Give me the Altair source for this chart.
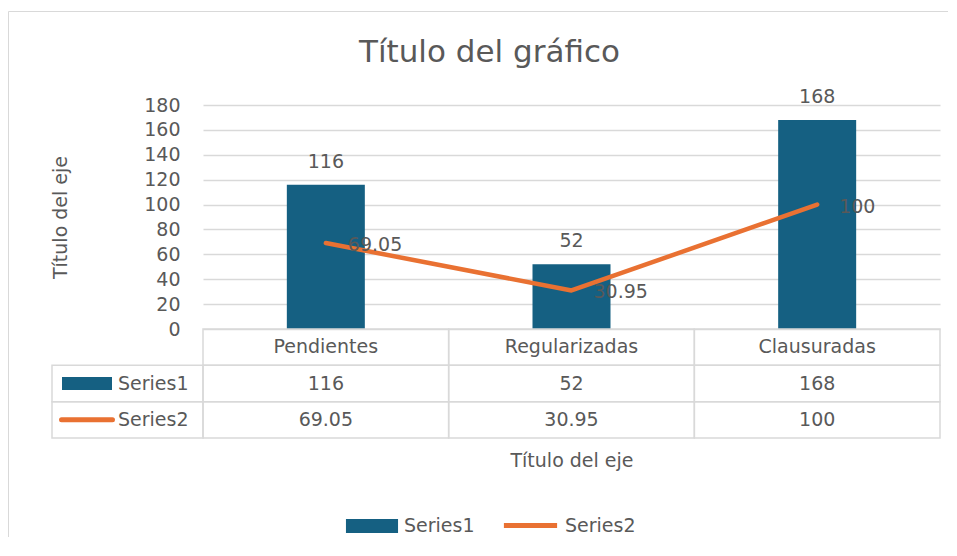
import altair as alt
import pandas as pd

# ---- data ----
categories = ["Pendientes", "Regularizadas", "Clausuradas"]
series1 = [116, 52, 168]
series2 = [69.05, 30.95, 100]
series_names = ["Series1", "Series2"]
y_ticks = [0, 20, 40, 60, 80, 100, 120, 140, 160, 180]
title_text = "Título del gráfico"
axis_title = "Título del eje"

BLUE = "#156082"
ORANGE = "#E97132"
TEXT = "#595959"
GRID = "#D9D9D9"
FONT = "DejaVu Sans"
FS = 19

W, H = 737, 224


def fmt(v):
    return f"{v:g}"


df1 = pd.DataFrame({"cat": categories, "value": series1, "series": "Series1",
                    "label": [fmt(v) for v in series1]})
df2 = pd.DataFrame({"cat": categories, "value": series2, "series": "Series2",
                    "label": [fmt(v) for v in series2]})

table_rows = []
for i, c in enumerate(categories):
    table_rows.append({"cat": c, "row": "header", "text": c})
    table_rows.append({"cat": c, "row": "Series1", "text": fmt(series1[i])})
    table_rows.append({"cat": c, "row": "Series2", "text": fmt(series2[i])})
table_df = pd.DataFrame(table_rows)
rowlab_df = pd.DataFrame({"row": series_names})

# ---- encodings ----
xscale = alt.Scale(domain=categories, paddingInner=0, paddingOuter=0)
xaxis = alt.Axis(labels=False, ticks=False, domain=False, grid=False,
                 title=axis_title, titleFont=FONT, titleFontSize=FS,
                 titleColor=TEXT, titleFontWeight="normal",
                 titleX=W / 2, titleY=131, titleBaseline="middle")
X = alt.X("cat:N", scale=xscale, axis=xaxis)

yscale = alt.Scale(domain=[0, 180], nice=False)
yaxis = alt.Axis(values=y_ticks, grid=True, gridColor=GRID, gridWidth=1.3,
                 domain=False, ticks=False, labelPadding=23,
                 labelFont=FONT, labelFontSize=FS, labelColor=TEXT,
                 title=axis_title, titleFont=FONT, titleFontSize=FS,
                 titleColor=TEXT, titleFontWeight="normal",
                 titleX=-143, titleY=H / 2, titleAngle=270,
                 titleAlign="center", titleBaseline="middle")
Y = alt.Y("value:Q", scale=yscale, axis=yaxis)

legend_common = dict(orient="none", direction="horizontal",
                     title=None, symbolSize=3136, labelFont=FONT,
                     labelFontSize=FS, labelColor=TEXT, labelOffset=4,
                     padding=0, symbolOpacity=1)

fill_enc = alt.Fill("series:N",
                    scale=alt.Scale(domain=["Series1"], range=[BLUE]),
                    legend=alt.Legend(legendX=141, legendY=393,
                                      symbolType="M-0.93,-0.25H0.93V0.25H-0.93Z",
                                      symbolStrokeWidth=0, **legend_common))
stroke_enc = alt.Stroke("series:N",
                        scale=alt.Scale(domain=["Series2"], range=[ORANGE]),
                        legend=alt.Legend(legendX=297, legendY=390,
                                          symbolType="M-0.95,0H0.95",
                                          symbolStrokeWidth=5, **legend_common))

bars = alt.Chart(df1).mark_bar(size=78).encode(x=X, y=Y, fill=fill_enc)
bar_labels = alt.Chart(df1).mark_text(
    font=FONT, fontSize=FS, color=TEXT, baseline="middle", dy=-23
).encode(x=X, y=Y, text="label:N")
line = alt.Chart(df2).mark_line(
    strokeWidth=4.5, strokeCap="round", strokeJoin="round"
).encode(x=X, y=Y, stroke=stroke_enc)
line_labels = alt.Chart(df2).mark_text(
    font=FONT, fontSize=FS, color=TEXT, align="left", baseline="middle",
    dx=22, dy=2
).encode(x=X, y=Y, text="label:N")

main = alt.layer(bars, bar_labels, line, line_labels)

# ---- data table ----
rowscale = alt.Scale(domain=["header", "Series1", "Series2"], range=[224, 333],
                     paddingInner=0, paddingOuter=0)
R = alt.Y("row:N", scale=rowscale, axis=None)

cells = alt.Chart(table_df).mark_rect(
    fillOpacity=0, stroke=GRID, strokeWidth=1.5
).encode(x=X, y=R)
left_cells = alt.Chart(rowlab_df).mark_rect(
    fillOpacity=0, stroke=GRID, strokeWidth=1.5
).encode(x=alt.value(-151), x2=alt.value(0), y=R)
cell_text = alt.Chart(table_df).mark_text(
    font=FONT, fontSize=FS, color=TEXT, baseline="middle"
).encode(x=X, y=R, text="text:N")
row_text = alt.Chart(rowlab_df).mark_text(
    font=FONT, fontSize=FS, color=TEXT, align="left", baseline="middle"
).encode(x=alt.value(-85), y=R, text="row:N")
sw1 = alt.Chart(rowlab_df).transform_filter("datum.row == 'Series1'").mark_point(
    shape="M-1,-0.26H1V0.26H-1Z", filled=True, size=2500, color=BLUE,
    opacity=1, strokeWidth=0
).encode(x=alt.value(-116), y=R)
sw2 = alt.Chart(rowlab_df).transform_filter("datum.row == 'Series2'").mark_point(
    shape="M-0.91,0H0.91", filled=False, size=3136, color=ORANGE,
    opacity=1, strokeWidth=5, strokeCap="round"
).encode(x=alt.value(-116), y=R)

frame = alt.Chart(alt.Data(values=[{"f": 1}])).mark_rect(
    fillOpacity=0, stroke=GRID, strokeWidth=1
).encode(x=alt.value(-194.5), x2=alt.value(780), y=alt.value(-93.5), y2=alt.value(480))

table = alt.layer(frame, cells, left_cells, cell_text, row_text, sw1, sw2)

chart = alt.layer(main, table).resolve_scale(y="independent").properties(
    width=W, height=H,
    padding={"left": 195, "top": 97, "right": 8, "bottom": 208},
    autosize=alt.AutoSizeParams(type="none"),
    title=alt.TitleParams(title_text, font=FONT, fontSize=31, fontWeight="normal",
                          color=TEXT, anchor="middle", frame="group", offset=0,
                          baseline="alphabetic", dx=-82, dy=82),
).configure_view(strokeWidth=0)

chart.save("out.html", embed_options={"renderer": "svg", "actions": False})
